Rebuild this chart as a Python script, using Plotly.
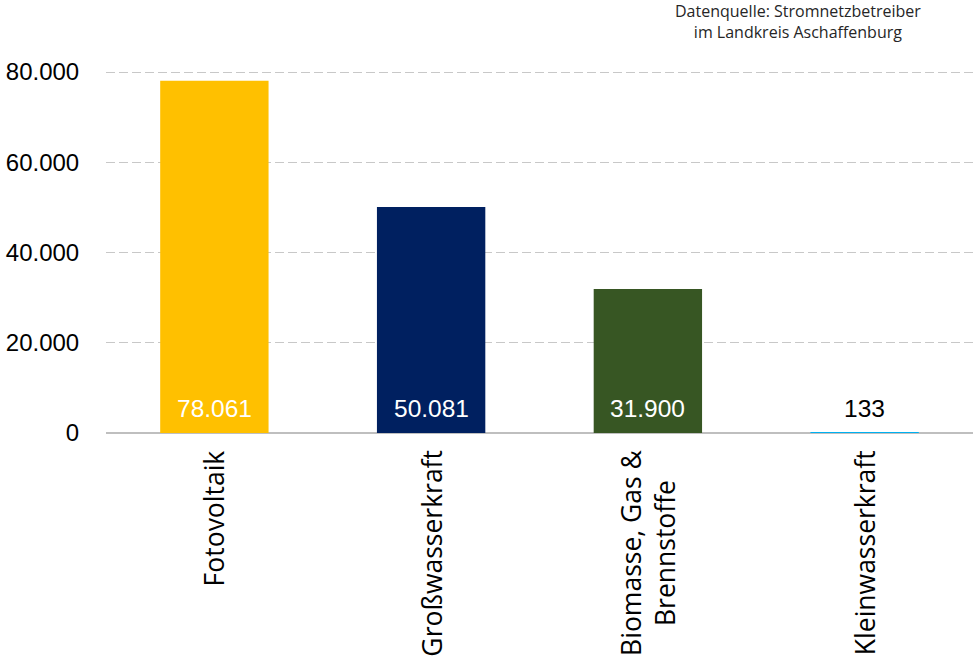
import plotly.graph_objects as go

categories = ["Fotovoltaik", "Großwasserkraft", "Biomasse, Gas &<br>Brennstoffe", "Kleinwasserkraft"]
values = [78061, 50081, 31900, 133]
colors = ["#FFC000", "#002060", "#375623", "#00B0F0"]
label_colors = ["white", "white", "white", "black"]
tick_vals = [0, 20000, 40000, 60000, 80000]
tick_text = ["0", "20.000", "40.000", "60.000", "80.000"]
source = "Datenquelle: Stromnetzbetreiber<br>im Landkreis Aschaffenburg"

fig = go.Figure()
fig.add_trace(go.Bar(
    x=list(range(len(categories))), y=values,
    marker=dict(color=colors, line=dict(width=0)),
    hoverinfo="skip",
))

# value labels near the base of each bar
for i, (v, col) in enumerate(zip(values, label_colors)):
    fig.add_annotation(
        x=i, xref="x", y=0, yref="y", yshift=25,
        text=f"{v:,}".replace(",", "."), showarrow=False,
        xanchor="center", yanchor="middle",
        font=dict(family="Liberation Sans, Arial", size=24.5, color=col),
    )

# category labels (rotated)
for i, c in enumerate(categories):
    fig.add_annotation(
        x=i, xref="x", y=0, yref="paper", yshift=-15,
        text=c, textangle=-90, showarrow=False,
        xanchor="center", yanchor="top", align="center",
        font=dict(family="Open Sans", size=26.5, color="black"),
    )

fig.add_annotation(
    x=(798 - 106) / (973 - 106), xref="paper", y=1.198, yref="paper",
    xanchor="center", yanchor="top", showarrow=False,
    text=source, align="center",
    font=dict(family="Open Sans", size=16, color="#262626"),
)

fig.update_layout(
    width=973, height=657,
    margin=dict(l=106, r=0, t=70, b=224, pad=0),
    plot_bgcolor="white", paper_bgcolor="white",
    bargap=0.5,
    separators=",.",
    showlegend=False,
)
fig.update_xaxes(
    range=[-0.5, 3.5], showticklabels=False, showgrid=False,
    showline=False, zeroline=False, ticks="",
)
fig.update_yaxes(
    range=[0, 80443], tickvals=tick_vals, ticktext=tick_text,
    tickfont=dict(family="Liberation Sans, Arial", size=24, color="black"),
    showgrid=True, gridcolor="#C8C8C8", griddash="9px,4px", gridwidth=1,
    zeroline=True, zerolinecolor="#BFBFBF", zerolinewidth=2,
    showline=False, ticks="outside", ticklen=21, tickcolor="rgba(0,0,0,0)",
)

fig.write_html("out.html")
